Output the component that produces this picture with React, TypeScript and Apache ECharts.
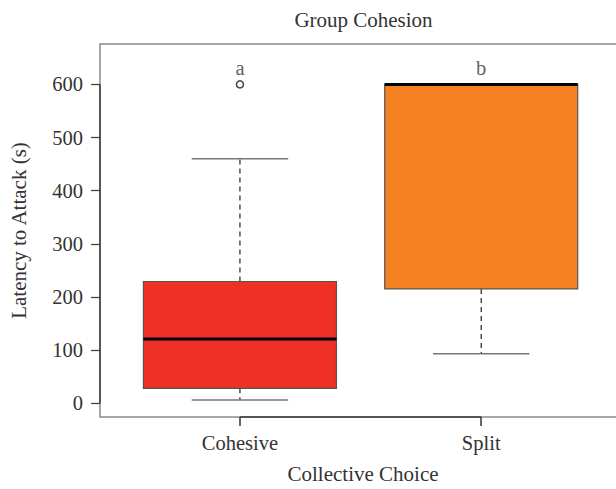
import React, { useEffect, useRef } from "react";
import * as echarts from "echarts";

const categories = ["Cohesive", "Split"];
const boxMin = [6, 93];
const boxQ1 = [28, 215];
const boxMedian = [121, 600];
const boxQ3 = [229, 600];
const boxMax = [460, 600];
const boxColors = ["#EE3124", "#F58222"];
const outlierCategory = [1];
const outlierValue = [600];
const letters = ["a", "b"];
const letterValue = [630, 630];
const yTicks = [0, 100, 200, 300, 400, 500, 600];
const xTicks = [1, 2];

const X_MIN = 0.42;
const X_MAX = 2.6;
const Y_MIN = -26;
const Y_MAX = 676;
const FONT = "'Liberation Serif', 'DejaVu Serif', serif";
const TEXT = "#333333";

export default function App() {
  const ref = useRef<HTMLDivElement>(null);
  useEffect(() => {
    if (!ref.current) return;
    const chart = echarts.init(ref.current, undefined, { renderer: "svg" });
    const boxData = categories.map((c, i) => [
      i + 1,
      boxMin[i],
      boxQ1[i],
      boxMedian[i],
      boxQ3[i],
      boxMax[i],
      i,
    ]);
    const option: any = {
      animation: false,
      backgroundColor: "#ffffff",
      textStyle: { fontFamily: FONT, color: TEXT },
      title: {
        text: "Group Cohesion",
        left: 358.5,
        top: 4,
        textAlign: "center",
        textStyle: { fontFamily: FONT, fontWeight: "normal", fontSize: 21, color: TEXT },
      },
      grid: {
        left: 99,
        right: 0,
        top: 44,
        bottom: 67,
        show: true,
        borderColor: "#8a8a8a",
        borderWidth: 1.5,
        backgroundColor: "transparent",
        containLabel: false,
      },
      xAxis: {
        type: "value",
        min: X_MIN,
        max: X_MAX,
        name: "Collective Choice",
        nameLocation: "middle",
        nameGap: 46,
        nameTextStyle: { fontFamily: FONT, fontSize: 21, color: TEXT },
        axisLine: { show: false, onZero: false },
        splitLine: { show: false },
        axisTick: {
          show: true,
          inside: false,
          length: 9,
          customValues: xTicks,
          lineStyle: { color: "#333", width: 1.5 },
        },
        axisLabel: {
          customValues: xTicks,
          margin: 15,
          fontFamily: FONT,
          fontSize: 20.5,
          color: TEXT,
          formatter: (v: number) => categories[Math.round(v) - 1] ?? "",
        },
      },
      yAxis: {
        type: "value",
        min: Y_MIN,
        max: Y_MAX,
        name: "Latency to Attack (s)",
        nameLocation: "middle",
        nameRotate: 90,
        nameGap: 71,
        nameTextStyle: { fontFamily: FONT, fontSize: 21, color: TEXT },
        axisLine: { show: false, onZero: false },
        splitLine: { show: false },
        axisTick: {
          show: true,
          length: 9,
          customValues: yTicks,
          lineStyle: { color: "#444", width: 1.3 },
        },
        axisLabel: {
          customValues: yTicks,
          margin: 17,
          fontFamily: FONT,
          fontSize: 20.5,
          color: TEXT,
        },
      },
      series: [
        {
          type: "custom",
          data: boxData,
          encode: { x: 0, y: [1, 2, 3, 4, 5] },
          clip: false,
          renderItem: (params: any, api: any) => {
            const x = api.value(0);
            const mn = api.value(1);
            const q1 = api.value(2);
            const md = api.value(3);
            const q3 = api.value(4);
            const mx = api.value(5);
            const idx = api.value(6);
            const half = 0.4;
            const cap = 0.2;
            const tl = api.coord([x - half, q3]);
            const br = api.coord([x + half, q1]);
            const c = api.coord([x, 0])[0];
            const yMn = api.coord([x, mn])[1];
            const yQ1 = api.coord([x, q1])[1];
            const yMd = api.coord([x, md])[1];
            const yQ3 = api.coord([x, q3])[1];
            const yMx = api.coord([x, mx])[1];
            const capL = api.coord([x - cap, 0])[0];
            const capR = api.coord([x + cap, 0])[0];
            const children: any[] = [];
            children.push({
              type: "line",
              shape: { x1: c, y1: yQ3, x2: c, y2: yMx },
              style: { stroke: "#222", lineWidth: 1.2, lineDash: [5, 4] },
            });
            children.push({
              type: "line",
              shape: { x1: c, y1: yQ1, x2: c, y2: yMn },
              style: { stroke: "#222", lineWidth: 1.2, lineDash: [5, 4] },
            });
            children.push({
              type: "line",
              shape: { x1: capL, y1: yMx, x2: capR, y2: yMx },
              style: { stroke: "#777", lineWidth: 1.5 },
            });
            children.push({
              type: "line",
              shape: { x1: capL, y1: yMn, x2: capR, y2: yMn },
              style: { stroke: "#777", lineWidth: 1.5 },
            });
            children.push({
              type: "rect",
              shape: { x: tl[0], y: tl[1], width: br[0] - tl[0], height: br[1] - tl[1] },
              style: { fill: boxColors[idx], stroke: "#555", lineWidth: 1.2 },
            });
            children.push({
              type: "line",
              shape: { x1: tl[0], y1: yMd, x2: br[0], y2: yMd },
              style: { stroke: "#000", lineWidth: 3 },
            });
            return { type: "group", children };
          },
        },
        {
          type: "scatter",
          data: outlierCategory.map((c, i) => [c, outlierValue[i]]),
          symbol: "circle",
          symbolSize: 7,
          clip: false,
          itemStyle: { color: "#ffffff", borderColor: "#111", borderWidth: 1.5 },
          markLine: {
            silent: true,
            symbol: "none",
            label: { show: false },
            lineStyle: { color: "#3a3a3a", width: 1.5, type: "solid" },
            data: [
              [{ coord: [X_MIN, yTicks[0]] }, { coord: [X_MIN, yTicks[yTicks.length - 1]] }],
              [{ coord: [xTicks[0], Y_MIN] }, { coord: [xTicks[xTicks.length - 1], Y_MIN] }],
            ],
          },
        },
        {
          type: "scatter",
          data: letters.map((l, i) => ({ value: [i + 1, letterValue[i]], name: l })),
          symbolSize: 0,
          label: {
            show: true,
            position: "inside",
            formatter: (p: any) => p.name,
            fontFamily: FONT,
            fontSize: 20.5,
            color: TEXT,
          },
        },
      ],
    };
    chart.setOption(option);
    return () => chart.dispose();
  }, []);
  return (
    <div
      style={{
        position: "fixed",
        left: 0,
        top: 0,
        width: 616,
        height: 489,
        overflow: "hidden",
      }}
    >
      <div ref={ref} style={{ width: 626, height: 489 }} />
    </div>
  );
}
